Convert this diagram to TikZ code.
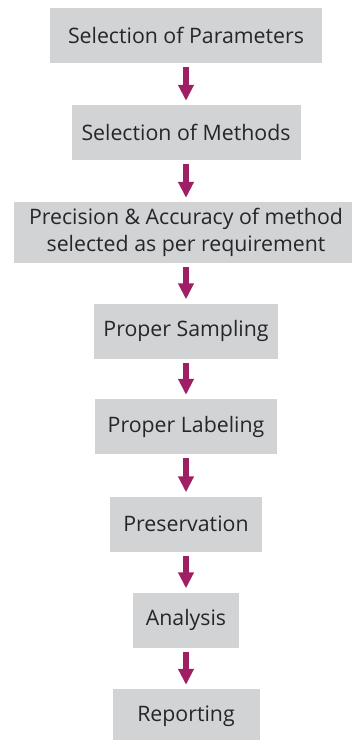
\documentclass[tikz,border=0pt]{standalone}
\usepackage{fontspec}
\setmainfont{Open Sans}
\usepackage{tikz}
\usetikzlibrary{arrows.meta,positioning}
\definecolor{mgray}{HTML}{D1D3D4}
\definecolor{mtext}{HTML}{262626}
\definecolor{mplum}{HTML}{9E1F63}
\tikzstyle{stage}=[rectangle, fill=mgray, text=mtext, minimum height=55pt, inner sep=0pt, font=\fontsize{21.3}{27}\selectfont]
\tikzstyle{flow}=[line width=5.5pt, color=mplum, -{Triangle[width=15pt,length=16pt]}, shorten <=4pt, shorten >=4pt]

\begin{document}
\begin{tikzpicture}[x=1pt, y=-1pt]
    \useasboundingbox (0,0) rectangle (352,740);
    \node (param) [stage, minimum width=272pt] at (186, 35.5) {Selection of Parameters};
    \node (meth) [stage, minimum width=229pt] at (186, 132.5) {Selection of Methods};
    \node (prec) [stage, minimum width=344pt, minimum height=61pt, align=center] at (186, 232.5) {Precision \& Accuracy of method\\selected as per requirement};
    \node (sampl) [stage, minimum width=184pt] at (186, 331) {Proper Sampling};
    \node (label) [stage, minimum width=182pt] at (186, 426.5) {Proper Labeling};
    \node (pres) [stage, minimum width=152pt] at (186, 524) {Preservation};
    \node (anal) [stage, minimum width=106pt] at (186, 620) {Analysis};
    \node (rep) [stage, minimum width=147pt] at (186, 716.5) {Reporting};
    \draw[flow] (param) -- (meth);
    \draw[flow] (meth) -- (prec);
    \draw[flow] (prec) -- (sampl);
    \draw[flow] (sampl) -- (label);
    \draw[flow] (label) -- (pres);
    \draw[flow] (pres) -- (anal);
    \draw[flow] (anal) -- (rep);
\end{tikzpicture}
\end{document}
